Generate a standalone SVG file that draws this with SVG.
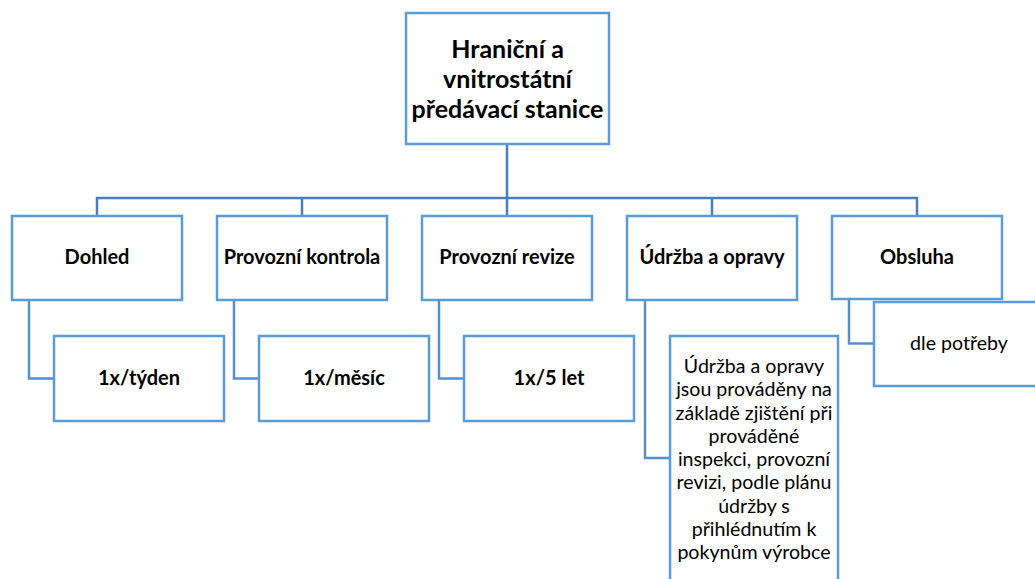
<svg xmlns="http://www.w3.org/2000/svg" width="1035" height="579" viewBox="0 0 1035 579">
<style>
.box{fill:#fff;stroke:#5B9BD5;stroke-width:2.5}
.bus{fill:none;stroke:#4A7EBB;stroke-width:2.5}
.sub{fill:none;stroke:#5590CC;stroke-width:2.5}
text{font-family:Lato,"Open Sans","Liberation Sans",sans-serif;fill:#000;text-anchor:middle}
.b{font-weight:bold}
.t1{font-size:25px}
.t2{font-size:20px}
.t3{font-size:19.6px}
</style>
<rect width="1035" height="579" fill="#fff"/>
<g id="connectors">
<path class="bus" d="M507 144V198M97 216V198H917V216M302 198V216M507 198V216M712 198V216"/>
<path class="sub" d="M29 300V378.5H54M234 300V378.5H259M439 300V378.5H464M645 300V458H670M849 299V343.5H874"/>
</g>
<g id="root"><rect class="box" x="406" y="13" width="203" height="131"/>
<text class="b t1" x="507.5" y="58">Hraniční a</text>
<text class="b t1" x="507.5" y="88">vnitrostátní</text>
<text class="b t1" x="507.5" y="118">předávací stanice</text></g>
<g id="dohled"><rect class="box" x="12" y="216" width="170" height="84"/><text class="b t2" x="97" y="264">Dohled</text></g>
<g id="kontrola"><rect class="box" x="217" y="216" width="170" height="84"/><text class="b t2" x="302" y="264">Provozní kontrola</text></g>
<g id="revize"><rect class="box" x="422" y="216" width="170" height="84"/><text class="b t2" x="507" y="264">Provozní revize</text></g>
<g id="udrzba"><rect class="box" x="627" y="216" width="170" height="84"/><text class="b t2" x="712" y="264">Údržba a opravy</text></g>
<g id="obsluha"><rect class="box" x="832" y="216" width="170" height="83"/><text class="b t2" x="917" y="264">Obsluha</text></g>
<g id="tyden"><rect class="box" x="54" y="336" width="170" height="85"/><text class="b t2" x="139" y="385">1x/týden</text></g>
<g id="mesic"><rect class="box" x="259" y="336" width="170" height="85"/><text class="b t2" x="344" y="385">1x/měsíc</text></g>
<g id="let5"><rect class="box" x="464" y="336" width="170" height="85"/><text class="b t2" x="549" y="385">1x/5 let</text></g>
<g id="udrzba-text"><rect class="box" x="670" y="336" width="168" height="270"/>
<text class="t3" x="754"><tspan x="754" y="373">Údržba a opravy</tspan><tspan x="754" y="396">jsou prováděny na</tspan><tspan x="754" y="419.5">základě zjištění při</tspan><tspan x="754" y="443">prováděné</tspan><tspan x="754" y="466">inspekci, provozní</tspan><tspan x="754" y="489">revizi, podle plánu</tspan><tspan x="754" y="512.5">údržby s</tspan><tspan x="754" y="536">přihlédnutím k</tspan><tspan x="754" y="559">pokynům výrobce</tspan></text></g>
<g id="potreba"><rect class="box" x="874" y="302" width="170" height="84"/><text class="t3" x="959" y="350">dle potřeby</text></g>
</svg>
